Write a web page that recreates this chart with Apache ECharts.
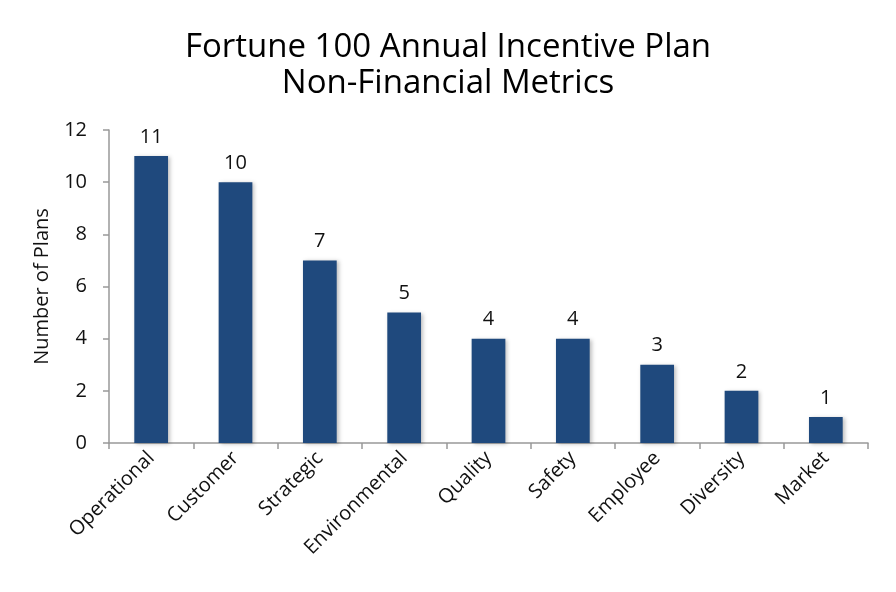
<!DOCTYPE html>
<html><head><meta charset="utf-8">
<script src="https://cdn.jsdelivr.net/npm/echarts@6/dist/echarts.min.js"></script>
<style>html,body{margin:0;padding:0;background:#fff}#c{width:896px;height:592px}</style>
</head><body><div id="c"></div>
<script>
const categories = ['Operational','Customer','Strategic','Environmental','Quality','Safety','Employee','Diversity','Market'];
const values = [11,10,7,5,4,4,3,2,1];
const titleLines = ['Fortune 100 Annual Incentive Plan','Non-Financial Metrics'];
const yAxisName = 'Number of Plans';
const chart = echarts.init(document.getElementById('c'));
const font = '"Open Sans", "Noto Sans", sans-serif';
chart.setOption({
  animation:false,
  textStyle:{fontFamily:font},
  title:{text:titleLines.join('\n'),left:'center',top:25,textStyle:{fontFamily:font,fontSize:33,fontWeight:'normal',color:'#000',lineHeight:36}},
  grid:{left:109,right:28,top:130,bottom:149},
  xAxis:{type:'category',data:categories,
    axisLine:{lineStyle:{color:'#999',width:1.5}},
    axisTick:{show:true,length:6,lineStyle:{color:'#999',width:1.5}},
    axisLabel:{rotate:45,fontSize:20,color:'#111',margin:12,fontFamily:font,interval:0}},
  yAxis:{type:'value',min:0,max:12,interval:2,name:yAxisName,nameLocation:'middle',nameGap:57,
    nameTextStyle:{fontSize:20,color:'#111',fontFamily:font},
    axisLine:{show:true,lineStyle:{color:'#999',width:1.5}},
    axisTick:{show:true,length:6,lineStyle:{color:'#999',width:1.5}},
    splitLine:{show:false},
    axisLabel:{fontSize:20,color:'#111',margin:22,fontFamily:font}},
  series:[{type:'bar',data:values,barWidth:'40%',
    itemStyle:{color:'#1F497D',shadowColor:'rgba(0,0,0,0.25)',shadowBlur:4,shadowOffsetX:2,shadowOffsetY:1},
    label:{show:true,position:'top',distance:9,fontSize:20,color:'#111',fontFamily:font}}]
});
</script></body></html>
